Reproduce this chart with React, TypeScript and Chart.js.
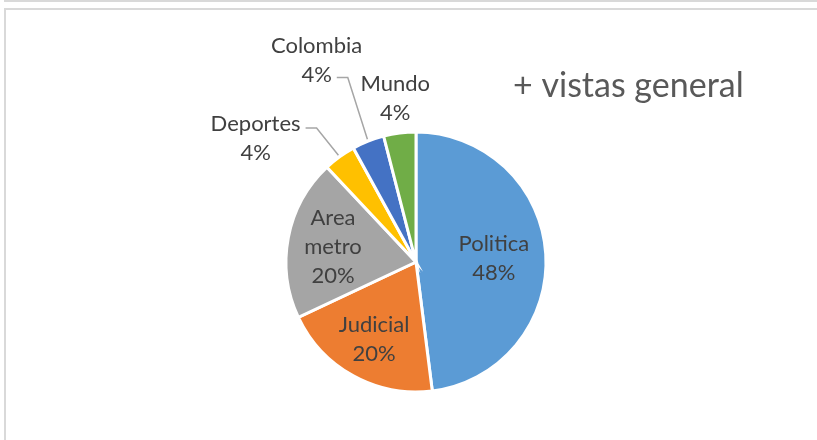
import { useEffect, useRef } from "react";
import { Chart, ArcElement, PieController } from "chart.js";

Chart.register(ArcElement, PieController);

// ---- data ----
const categories = ["Politica", "Judicial", "Area metro", "Deportes", "Colombia", "Mundo"];
const views = [12, 5, 5, 1, 1, 1];
const sliceColors = ["#5B9BD5", "#ED7D31", "#A5A5A5", "#FFC000", "#4472C4", "#70AD47"];
const titleText = "+ vistas general";

// ---- label layout (style only) ----
type LabelCfg = {
  inside: boolean;
  wrap?: boolean;
  rf?: number; // inside: fraction of radius
  angleShift?: number; // outside: degrees
  radiusAdd?: number; // outside: px beyond radius
  leader?: { line: number; dy: number };
};
const labelLayout: LabelCfg[] = [
  { inside: true, rf: 0.6 },
  { inside: true, rf: 0.67 },
  { inside: true, rf: 0.65, wrap: true },
  { inside: false, angleShift: -16.2, radiusAdd: 73, leader: { line: 0, dy: 5 } },
  { inside: false, angleShift: -4.5, radiusAdd: 96, leader: { line: 1, dy: 4 } },
  { inside: false, angleShift: 0, radiusAdd: 36 },
];

const FONT = "Lato";
const LABEL_SIZE = 22;
const LINE_H = 29;

const labelPlugin = {
  id: "pieLabels",
  afterDatasetsDraw(chart: any) {
    const ctx: CanvasRenderingContext2D = chart.ctx;
    const meta = chart.getDatasetMeta(0);
    const data: number[] = chart.data.datasets[0].data;
    const total = data.reduce((a, b) => a + b, 0);
    ctx.save();
    ctx.font = `${LABEL_SIZE}px ${FONT}`;
    ctx.fillStyle = "#404040";
    ctx.textAlign = "center";
    ctx.textBaseline = "alphabetic";
    meta.data.forEach((arc: any, i: number) => {
      const p = arc.getProps(["x", "y", "startAngle", "endAngle", "outerRadius"], true);
      const mid = (p.startAngle + p.endAngle) / 2;
      const cfg = labelLayout[i];
      const name = chart.data.labels[i] as string;
      const lines = [...(cfg.wrap ? name.split(" ") : [name]), Math.round((data[i] / total) * 100) + "%"];
      let cx: number, cy: number;
      if (cfg.inside) {
        cx = p.x + Math.cos(mid) * p.outerRadius * (cfg.rf || 0.6);
        cy = p.y + Math.sin(mid) * p.outerRadius * (cfg.rf || 0.6);
      } else {
        const a = mid + ((cfg.angleShift || 0) * Math.PI) / 180;
        const r = p.outerRadius + (cfg.radiusAdd || 0);
        cx = p.x + Math.cos(a) * r;
        cy = p.y + Math.sin(a) * r;
      }
      const firstCenter = cy - ((lines.length - 1) * LINE_H) / 2;
      lines.forEach((t, k) => {
        ctx.fillText(t, cx, firstCenter + k * LINE_H + 8);
      });
      if (cfg.leader) {
        const ln = cfg.leader.line;
        const w = ctx.measureText(lines[ln]).width;
        const ay = firstCenter + ln * LINE_H + cfg.leader.dy;
        const ax = cx + w / 2 + 5;
        const ex = ax + 11;
        const tx = p.x + Math.cos(mid) * (p.outerRadius + 2);
        const ty = p.y + Math.sin(mid) * (p.outerRadius + 2);
        ctx.beginPath();
        ctx.strokeStyle = "#A6A6A6";
        ctx.lineWidth = 1.5;
        ctx.moveTo(ax, ay);
        ctx.lineTo(ex, ay);
        ctx.lineTo(tx, ty);
        ctx.stroke();
      }
    });
    // title
    ctx.font = `34px ${FONT}`;
    ctx.fillStyle = "#595959";
    ctx.textAlign = "left";
    ctx.fillText(titleText, 513, 97);
    ctx.restore();
  },
};

export default function App() {
  const ref = useRef<HTMLCanvasElement | null>(null);
  useEffect(() => {
    if (!ref.current) return;
    const chart = new Chart(ref.current, {
      type: "pie",
      data: {
        labels: categories,
        datasets: [
          {
            data: views,
            backgroundColor: sliceColors,
            borderColor: "#ffffff",
            borderWidth: 3,
            borderJoinStyle: "miter",
          } as any,
        ],
      },
      options: {
        animation: false,
        responsive: false,
        radius: 130,
        layout: { padding: { top: 132, bottom: 48, left: 216, right: 201 } },
        plugins: { legend: { display: false }, tooltip: { enabled: false } },
        events: [],
      } as any,
      plugins: [labelPlugin],
    });
    return () => chart.destroy();
  }, []);
  return (
    <div style={{ position: "fixed", left: 0, top: 0, width: 817, height: 440, background: "#fff", overflow: "hidden" }}>
      <div style={{ position: "absolute", left: 4, top: 0, width: 900, height: 0, borderTop: "2px solid #d9d9d9" }} />
      <div
        style={{
          position: "absolute",
          left: 4,
          top: 8,
          width: 900,
          height: 600,
          borderTop: "2px solid #d9d9d9",
          borderLeft: "2px solid #d9d9d9",
        }}
      />
      <canvas ref={ref} width={817} height={440} style={{ position: "absolute", left: 0, top: 0, width: 817, height: 440 }} />
    </div>
  );
}
